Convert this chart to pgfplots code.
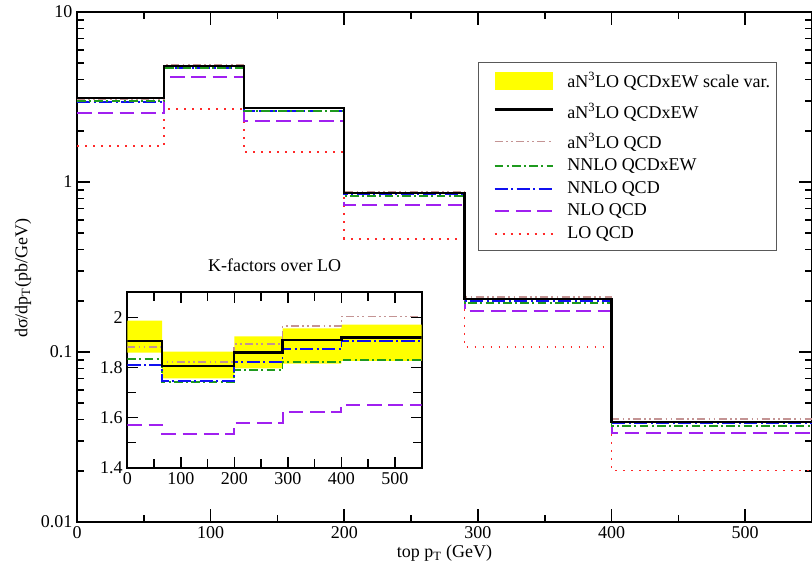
\documentclass[border=0pt]{standalone}
\usepackage{fontspec}
\setmainfont{Liberation Serif}
\usepackage{pgfplots}
\pgfplotsset{compat=1.18}
\definecolor{myred}{HTML}{FF2A2A}
\definecolor{mypurple}{HTML}{A020F0}
\definecolor{myblue}{HTML}{1010F0}
\definecolor{mygreen}{HTML}{1E9A1E}
\definecolor{mybrown}{HTML}{C49494}
\definecolor{myyellow}{HTML}{FFFF00}
\newcommand\fs{\fontsize{13.5}{16}\selectfont}
\tikzset{
 sLO/.style={myred, line width=1.4pt, dash pattern=on 1.4pt off 4.6pt},
 sNLO/.style={mypurple, line width=1.5pt, dash pattern=on 11pt off 5pt},
 sNNLO/.style={myblue, line width=1.4pt, dash pattern=on 10pt off 2.5pt on 1.5pt off 2.5pt},
 sNNLOEW/.style={mygreen, line width=1.4pt, dash pattern=on 6.5pt off 2.5pt on 1.5pt off 2.5pt},
 sANQCD/.style={mybrown, line width=1.4pt, dash pattern=on 6pt off 2.5pt on 1.3pt off 2.5pt on 1.3pt off 2.5pt},
 sAN/.style={black, line width=1.6pt, solid},
}
% #1: extra room above the line, #2: line style
\newcommand\legline[2]{\path[draw=none, fill=none] (0pt,0pt) -- (51.5pt,#1); \draw[#2] (7.5pt,0pt) -- (51.5pt,0pt);}
\begin{document}
\begin{tikzpicture}[font=\fs]
\path[use as bounding box] (0,0) rectangle (609pt,426pt);
\begin{axis}[
  at={(57.75pt,34.5pt)}, anchor=south west,
  scale only axis, width=551.25pt, height=382.5pt,
  ymode=log, xmin=0, xmax=550, ymin=0.01, ymax=10,
  xtick={0,100,200,300,400,500},
  minor xtick={50,150,250,350,450},
  ytick={0.01,0.1,1,10}, yticklabels={0.01,0.1,1,10},
  minor ytick={0.02,0.03,0.04,0.05,0.06,0.07,0.08,0.09,0.2,0.3,0.4,0.5,0.6,0.7,0.8,0.9,2,3,4,5,6,7,8,9},
  tick pos=both, tick align=inside,
  major tick length=9.5pt, minor tick length=5pt,
  every tick/.style={black, line width=1.2pt},
  axis line style={line width=1.5pt},
  /pgf/number format/assume math mode=true,
  tick label style={font=\fs},
  xlabel={top p\textsubscript{T} (GeV)},
  ylabel={dσ/dp\textsubscript{T}(pb/GeV)},
  xlabel style={at={(axis description cs:0.5,-0.062)}, anchor=center},
  ylabel style={at={(axis description cs:-0.0735,0.478)}, anchor=center},
  legend cell align=left,
  legend style={at={(axis description cs:0.5456,0.902)}, anchor=north west,
    draw=black!65, line width=0.8pt, fill=white,
    inner xsep=4.5pt, inner ysep=7pt, row sep=6pt, column sep=9.75pt,
    nodes={inner sep=0pt, text depth=2pt, font=\fs, draw=none}},
]
\addlegendimage{legend image code/.code={\path[draw=none, fill=none] (0pt,0pt) -- (51.5pt,0pt); \fill[myyellow, draw=none] (7.5pt,-6.5pt) rectangle (51.5pt,6.5pt);}}
\addlegendentry{aN\textsuperscript{3}LO QCDxEW scale var.}
\addlegendimage{legend image code/.code={\legline{8.8pt}{black, line width=1.6pt, solid}}}
\addlegendentry{\rule{0pt}{15pt}aN\textsuperscript{3}LO QCDxEW}
\addlegendimage{legend image code/.code={\legline{9.5pt}{draw=mybrown, line width=1.4pt, dash pattern=on 6pt off 2.5pt on 1.3pt off 2.5pt on 1.3pt off 2.5pt}}}
\addlegendentry{\rule{0pt}{12pt}aN\textsuperscript{3}LO QCD}
\addlegendimage{legend image code/.code={\legline{0pt}{draw=mygreen, line width=1.4pt, dash pattern=on 6.5pt off 2.5pt on 1.5pt off 2.5pt}}}
\addlegendentry{NNLO QCDxEW}
\addlegendimage{legend image code/.code={\legline{0pt}{draw=myblue, line width=1.4pt, dash pattern=on 10pt off 2.5pt on 1.5pt off 2.5pt}}}
\addlegendentry{NNLO QCD}
\addlegendimage{legend image code/.code={\legline{0pt}{draw=mypurple, line width=1.5pt, dash pattern=on 11pt off 5pt}}}
\addlegendentry{NLO QCD}
\addlegendimage{legend image code/.code={\legline{0pt}{draw=myred, color=myred, line width=1.6pt, dash pattern=on 1.6pt off 4.4pt}}}
\addlegendentry{LO QCD}
% LO
\addplot[sLO, const plot, forget plot] coordinates {(0,1.63)(65,2.68)(125,1.50)(200,0.464)(290,0.107)(400,0.0201)(550,0.0201)};
% NLO
\addplot[sNLO, const plot, forget plot] coordinates {(0,2.56)(65,4.12)(125,2.30)(200,0.733)(290,0.174)(400,0.0332)(550,0.0332)};
% NNLO QCD
\addplot[sNNLO, const plot, forget plot] coordinates {(0,2.95)(65,4.68)(125,2.62)(200,0.846)(290,0.200)(400,0.0383)(550,0.0383)};
% NNLO QCDxEW
\addplot[sNNLOEW, const plot, forget plot] coordinates {(0,2.99)(65,4.67)(125,2.61)(200,0.830)(290,0.195)(400,0.0368)(550,0.0368)};
% aN3LO QCD
\addplot[sANQCD, const plot, forget plot] coordinates {(0,3.07)(65,4.89)(125,2.73)(200,0.878)(290,0.210)(400,0.0403)(550,0.0403)};
% aN3LO QCDxEW
\addplot[sAN, const plot, forget plot] coordinates {(0,3.11)(65,4.84)(125,2.71)(200,0.863)(290,0.204)(400,0.0386)(550,0.0386)};
\end{axis}
\begin{axis}[
  at={(95.5pt,75.2pt)}, anchor=south west,
  scale only axis, width=220.8pt, height=131.5pt,
  xmin=0, xmax=550, ymin=1.4, ymax=2.1,
  axis background/.style={fill=white},
  xtick={0,100,200,300,400,500},
  minor xtick={50,150,250,350,450},
  ytick={1.4,1.6,1.8,2.0}, yticklabels={1.4,1.6,1.8,2},
  minor ytick={1.5,1.7,1.9},
  tick pos=both, tick align=inside,
  major tick length=8pt, minor tick length=6.5pt,
  every tick/.style={black, line width=1.1pt},
  axis line style={line width=1.4pt},
  /pgf/number format/assume math mode=true,
  tick label style={font=\fs},
  title={K-factors over LO},
  title style={at={(axis description cs:0.5,1)}, anchor=center, yshift=14.4pt, font=\fs},
]
\addplot[fill=myyellow, draw=none] coordinates {(0,1.86)(0,1.987)(65,1.987)(65,1.864)(200,1.864)(200,1.924)(290,1.924)(290,1.956)(400,1.956)(400,1.971)(550,1.971)(550,1.827)(400,1.827)(400,1.816)(290,1.816)(290,1.797)(200,1.797)(200,1.757)(65,1.757)(65,1.86)} -- cycle;
\addplot[sNLO, const plot] coordinates {(0,1.571)(65,1.536)(200,1.580)(290,1.623)(400,1.651)(550,1.651)};
\addplot[sNNLOEW, const plot] coordinates {(0,1.833)(65,1.743)(200,1.789)(290,1.823)(400,1.831)(550,1.831)};
\addplot[sNNLO, const plot] coordinates {(0,1.810)(65,1.747)(200,1.823)(290,1.873)(400,1.907)(550,1.907)};
\addplot[sANQCD, const plot] coordinates {(0,1.883)(65,1.823)(200,1.893)(290,1.967)(400,2.004)(550,2.004)};
\addplot[sAN, const plot] coordinates {(0,1.907)(65,1.807)(200,1.860)(290,1.909)(400,1.920)(550,1.920)};
\end{axis}
\end{tikzpicture}
\end{document}
